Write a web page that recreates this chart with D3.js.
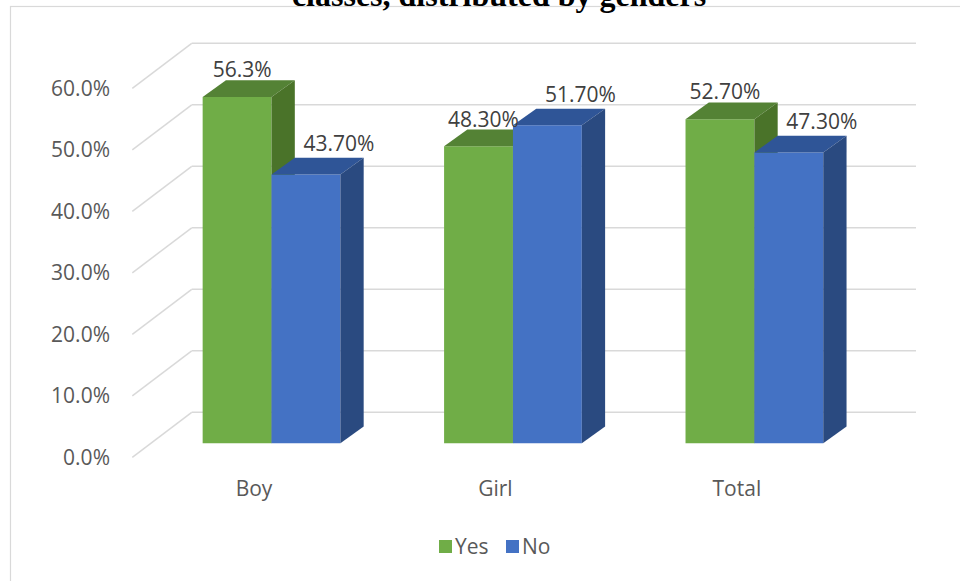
<!DOCTYPE html>
<html>
<head>
<meta charset="utf-8">
<script src="https://cdn.jsdelivr.net/npm/d3@7"></script>
<style>
  body { margin: 0; background: #ffffff; }
  svg { display: block; }
</style>
</head>
<body>
<div id="chart"></div>
<script>
const categories  = ["Boy", "Girl", "Total"];
const seriesNames = ["Yes", "No"];
const yesValues   = [56.3, 48.3, 52.7];
const noValues    = [43.7, 51.7, 47.3];
const yesLabels   = ["56.3%", "48.30%", "52.70%"];
const noLabels    = ["43.70%", "51.70%", "47.30%"];
const yTicks      = [0, 10, 20, 30, 40, 50, 60];

const W = 960, H = 581;
const fontFam = "'Open Sans', 'DejaVu Sans', sans-serif";
const fontSz  = "21px";

// colours: front / top / side per series
const colors = {
  Yes: { front: "#70AD47", top: "#548235", side: "#4A7329" },
  No:  { front: "#4472C4", top: "#2F5597", side: "#2A4A80" }
};
// label nudge per series (excel moves them about a bit)
const labelNudge = { Yes: [5, -3], No: [33, -7] };

// oblique 3D layout
const floorDx = 59.4, floorDy = -45;   // depth of the whole floor
const offX = 18.5, offY = -14;         // bar front plane inside the floor
const barDx = 23.3, barDy = -16.7;     // bar depth
const backRight = 916;

const svg = d3.select("#chart").append("svg")
  .attr("width", W).attr("height", H);

// chart frame
svg.append("rect")
  .attr("x", 10.5).attr("y", 6.5)
  .attr("width", 980).attr("height", 600)
  .attr("fill", "none").attr("stroke", "#D9D9D9").attr("stroke-width", 1.2);

// title (cut at the top of the picture, as in the source)
svg.append("text")
  .attr("x", 499).attr("y", 6)
  .attr("text-anchor", "middle")
  .style("font-family", "'Liberation Serif', 'Times New Roman', serif")
  .style("font-weight", "bold")
  .style("font-size", "32px")
  .attr("fill", "#000000")
  .text("classes, distributed by genders");

const y = d3.scaleLinear().domain([0, 60]).range([457.3, 88.3]);
const x0 = d3.scaleBand().domain(categories).range([132.3, 856.6]).paddingInner(0).paddingOuter(0);
const x1 = d3.scaleBand().domain(seriesNames).range([0, x0.bandwidth()]).paddingInner(0).paddingOuter(0.753);

// gridlines: back wall + floor diagonals
const grid = svg.append("g").attr("stroke", "#D9D9D9").attr("stroke-width", 1.5).attr("fill", "none");
grid.selectAll("line.back")
  .data(yTicks).enter().append("line")
  .attr("class", "back")
  .attr("x1", x0.range()[0] + floorDx).attr("x2", backRight)
  .attr("y1", d => y(d) + floorDy).attr("y2", d => y(d) + floorDy);
grid.selectAll("line.diag")
  .data(yTicks).enter().append("line")
  .attr("class", "diag")
  .attr("x1", x0.range()[0]).attr("y1", d => y(d))
  .attr("x2", x0.range()[0] + floorDx).attr("y2", d => y(d) + floorDy);

// y tick labels
svg.append("g").selectAll("text")
  .data(yTicks).enter().append("text")
  .attr("x", 110).attr("y", d => y(d)).attr("dy", "0.36em")
  .attr("text-anchor", "end")
  .style("font-family", fontFam).style("font-size", fontSz)
  .attr("fill", "#595959")
  .text(d => d3.format(".1f")(d) + "%");

// bar data
const bars = [];
categories.forEach((c, i) => {
  bars.push({ cat: c, s: "Yes", v: yesValues[i], label: yesLabels[i] });
  bars.push({ cat: c, s: "No",  v: noValues[i],  label: noLabels[i] });
});

const pts = a => a.map(p => p.join(",")).join(" ");
const barG = svg.append("g");
bars.forEach(b => {
  const X = x0(b.cat) + x1(b.s) + offX;
  const w = x1.bandwidth();
  const yv = y(b.v) + offY, yb = y(0) + offY;
  const g = barG.append("g");
  g.append("polygon").attr("fill", colors[b.s].front)
    .attr("points", pts([[X, yv], [X + w, yv], [X + w, yb], [X, yb]]));
  g.append("polygon").attr("fill", colors[b.s].top)
    .attr("points", pts([[X, yv], [X + w, yv], [X + w + barDx, yv + barDy], [X + barDx, yv + barDy]]));
  g.append("polygon").attr("fill", colors[b.s].side)
    .attr("points", pts([[X + w, yv], [X + w + barDx, yv + barDy], [X + w + barDx, yb + barDy], [X + w, yb]]));
});

// data labels
svg.append("g").selectAll("text")
  .data(bars).enter().append("text")
  .attr("x", d => x0(d.cat) + x1(d.s) + offX + x1.bandwidth() / 2 + labelNudge[d.s][0])
  .attr("y", d => y(d.v) + offY + barDy + labelNudge[d.s][1])
  .attr("text-anchor", "middle")
  .style("font-family", fontFam).style("font-size", fontSz)
  .attr("fill", "#404040")
  .text(d => d.label);

// category labels
svg.append("g").selectAll("text")
  .data(categories).enter().append("text")
  .attr("x", d => x0(d) + x0.bandwidth() / 2 + 1)
  .attr("y", 496)
  .attr("text-anchor", "middle")
  .style("font-family", fontFam).style("font-size", fontSz)
  .attr("fill", "#595959")
  .text(d => d);

// legend
const legend = svg.append("g").attr("transform", "translate(439,540)");
const legX = [0, 67];
seriesNames.forEach((s, i) => {
  const lg = legend.append("g").attr("transform", "translate(" + legX[i] + ",0)");
  lg.append("rect").attr("width", 13).attr("height", 13).attr("fill", colors[s].front);
  lg.append("text").attr("x", 16).attr("y", 6.5).attr("dy", "0.36em")
    .style("font-family", fontFam).style("font-size", fontSz)
    .attr("fill", "#595959").text(s);
});
</script>
</body>
</html>
